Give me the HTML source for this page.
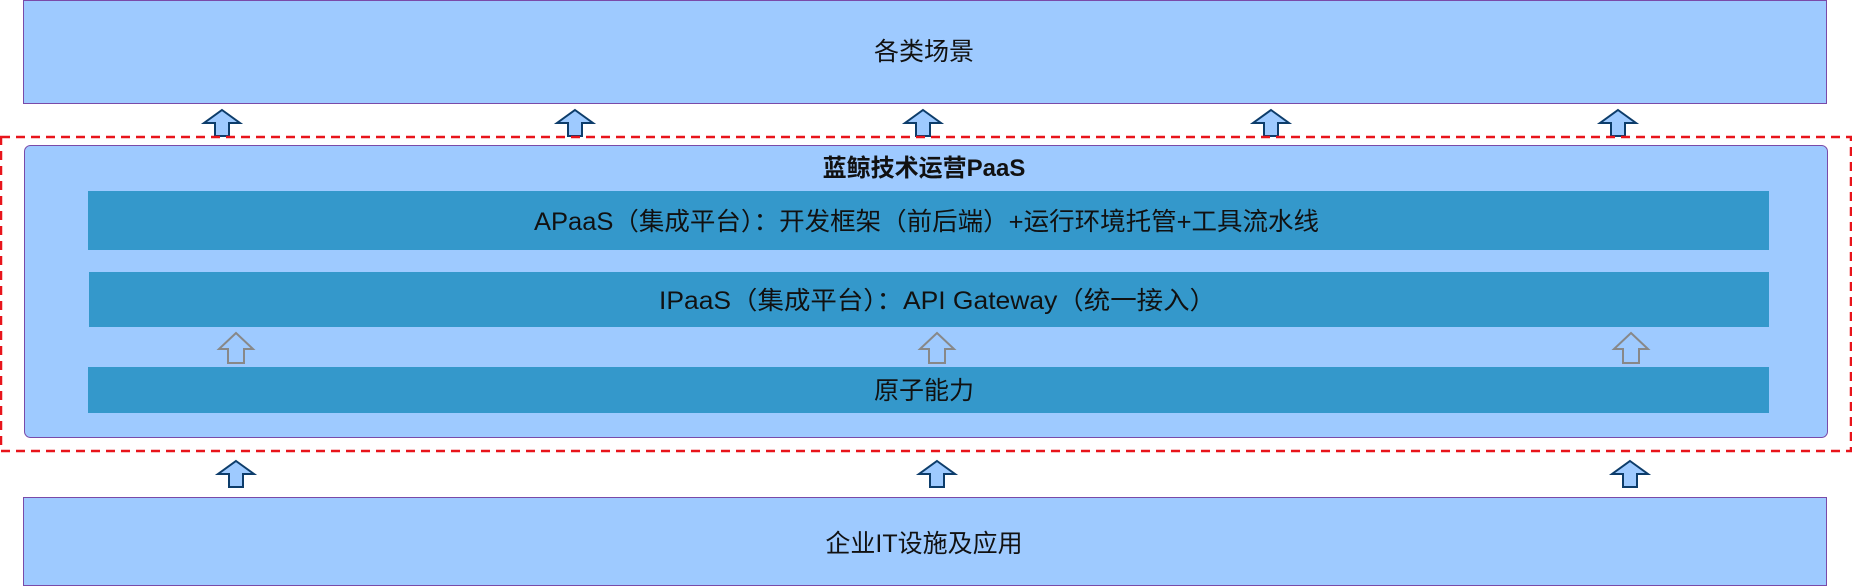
<!DOCTYPE html>
<html><head><meta charset="utf-8"><style>
html,body{margin:0;padding:0;background:#fff;}
svg{display:block;}
text{font-family:"Liberation Sans","Noto Sans CJK SC",sans-serif;font-size:24px;fill:#111;}
</style></head><body>
<svg width="1852" height="586" viewBox="0 0 1852 586" xmlns="http://www.w3.org/2000/svg">
<defs>
<path id="up" d="M0,-13 L18,0 L7,0 L7,13 L-7,13 L-7,0 L-18,0 Z" fill="#9ecaff" stroke="#0d3d6b" stroke-width="2"/>
<path id="hup" d="M0,-15 L17,1 L8,1 L8,15 L-8,15 L-8,1 L-17,1 Z" fill="none" stroke="#888" stroke-width="2"/>
</defs>
<rect x="23.5" y="0.5" width="1803" height="103" fill="#9ecaff" stroke="#7a4aa8" stroke-width="1"/>
<text x="924" y="60" text-anchor="middle" style="font-size:25px">各类场景</text>
<use href="#up" x="222" y="123"/>
<use href="#up" x="575" y="123"/>
<use href="#up" x="923" y="123"/>
<use href="#up" x="1271" y="123"/>
<use href="#up" x="1618" y="123"/>
<rect x="1" y="137" width="1850" height="314" fill="none" stroke="#e8141b" stroke-width="2.5" stroke-dasharray="9,6"/>
<rect x="24.5" y="145.5" width="1803" height="292" rx="6" fill="#9ecaff" stroke="#7a4aa8" stroke-width="1"/>
<text x="924" y="176" text-anchor="middle" style="font-weight:bold">蓝鲸技术运营PaaS</text>
<rect x="88" y="191" width="1681" height="59" fill="#3498cb"/>
<text x="534" y="230" textLength="785" lengthAdjust="spacingAndGlyphs" style="font-size:25px">APaaS（集成平台）：开发框架（前后端）+运行环境托管+工具流水线</text>
<rect x="89" y="272" width="1680" height="55" fill="#3498cb"/>
<text x="659" y="309" textLength="557" lengthAdjust="spacingAndGlyphs" style="font-size:25px">IPaaS（集成平台）：API Gateway（统一接入）</text>
<use href="#hup" x="236" y="348"/>
<use href="#hup" x="937" y="348"/>
<use href="#hup" x="1631" y="348"/>
<rect x="88" y="367" width="1681" height="46" fill="#3498cb"/>
<text x="924" y="399" text-anchor="middle" style="font-size:25px">原子能力</text>
<use href="#up" x="236" y="474"/>
<use href="#up" x="937" y="474"/>
<use href="#up" x="1630" y="474"/>
<rect x="23.5" y="497.5" width="1803" height="88" fill="#9ecaff" stroke="#7a4aa8" stroke-width="1"/>
<text x="924" y="552" text-anchor="middle" style="font-size:25px">企业IT设施及应用</text>
</svg>
</body></html>
